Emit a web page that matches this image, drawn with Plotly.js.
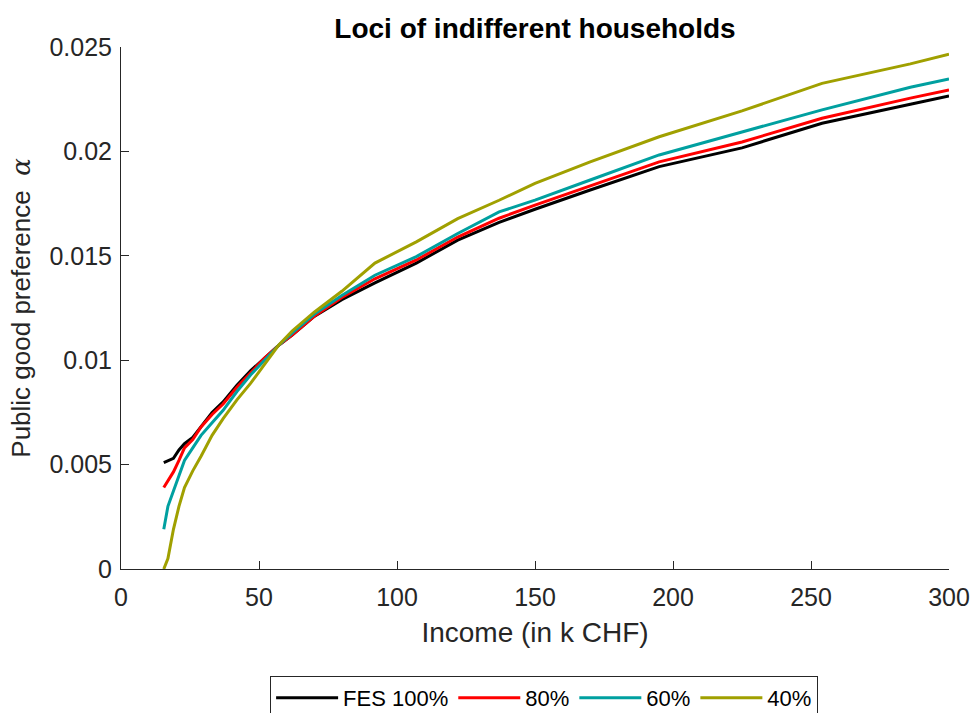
<!DOCTYPE html>
<html>
<head>
<meta charset="utf-8">
<script src="https://cdn.plot.ly/plotly-3.0.1.min.js"></script>
<style>
  html, body { margin: 0; padding: 0; background: #fff; }
  #chart { width: 974px; height: 713px; }
</style>
</head>
<body>
<div id="chart"></div>
<script>
// Income grid (k CHF)
const income = [15.5, 17, 19, 21, 23, 26, 29, 33, 37, 42, 47, 52, 57, 62, 70, 80, 92, 107, 122, 137, 150, 170, 195, 225, 254, 286, 300];

// Public good preference alpha for each scenario
const fes100 = [0.0051, 0.0052, 0.0053, 0.0057, 0.0060, 0.0063, 0.0068, 0.0075, 0.0080, 0.0088, 0.0095, 0.0101, 0.0107, 0.0112, 0.0121, 0.0129, 0.0137, 0.01465, 0.01575, 0.0166, 0.01723, 0.01815, 0.01927, 0.02017, 0.02135, 0.02226, 0.02266];
const fes80  = [0.0039, 0.0042, 0.00465, 0.0052, 0.0058, 0.0062, 0.0068, 0.0074, 0.0079, 0.0087, 0.0094, 0.0101, 0.0107, 0.0112, 0.0121, 0.0130, 0.0139, 0.0148, 0.0159, 0.0168, 0.01743, 0.01834, 0.0195, 0.02045, 0.02159, 0.02255, 0.02294];
const fes60  = [0.0019, 0.0030, 0.00374, 0.0045, 0.0052, 0.0058, 0.0064, 0.0070, 0.0076, 0.0085, 0.0093, 0.0100, 0.0107, 0.0113, 0.0122, 0.0131, 0.01407, 0.01496, 0.01607, 0.0171, 0.01767, 0.01863, 0.01983, 0.02093, 0.02199, 0.02307, 0.02347];
const fes40  = [0.0, 0.0005, 0.0019, 0.0030, 0.0039, 0.0047, 0.0054, 0.0064, 0.0072, 0.0081, 0.0089, 0.0098, 0.0107, 0.0114, 0.0123, 0.0133, 0.01465, 0.01567, 0.01678, 0.01766, 0.01847, 0.0195, 0.0207, 0.02194, 0.02326, 0.02419, 0.02465];

const seriesNames = ['FES 100%', '80%', '60%', '40%'];
const seriesColors = ['#000000', '#ff0000', '#00a0a0', '#a0a000'];

const xTickVals = [0, 50, 100, 150, 200, 250, 300];
const yTickVals = [0, 0.005, 0.01, 0.015, 0.02, 0.025];
const yTickText = ['0', '0.005', '0.01', '0.015', '0.02', '0.025'];

const seriesValues = [fes100, fes80, fes60, fes40];
const traces = seriesValues.map((vals, i) => ({
  x: income,
  y: vals,
  type: 'scatter',
  mode: 'lines',
  name: seriesNames[i],
  line: { color: seriesColors[i], width: 3 }
}));

const axisColor = '#262626';
const fontFamily = '"Liberation Sans", Arial, Helvetica, sans-serif';

const layout = {
  width: 974,
  height: 713,
  paper_bgcolor: '#ffffff',
  plot_bgcolor: '#ffffff',
  margin: { l: 121, r: 25, t: 47, b: 144, pad: 0 },
  font: { family: fontFamily, color: axisColor, size: 25 },
  title: {
    text: '<b>Loci of indifferent households</b>',
    font: { family: fontFamily, size: 28, color: '#000000' },
    x: 0.5, xref: 'paper', xanchor: 'center',
    y: 1, yref: 'paper', yanchor: 'bottom',
    pad: { b: 9 }
  },
  xaxis: {
    range: [0, 300],
    tickvals: xTickVals,
    ticks: 'inside',
    ticklen: 8,
    tickcolor: axisColor,
    tickfont: { size: 25, color: axisColor },
    ticklabelstandoff: 6,
    showline: true,
    linecolor: axisColor,
    linewidth: 1,
    showgrid: false,
    zeroline: false,
    automargin: false,
    title: { text: 'Income (in k CHF)', font: { size: 28, color: axisColor }, standoff: 12 }
  },
  yaxis: {
    range: [0, 0.025],
    tickvals: yTickVals,
    ticktext: yTickText,
    ticks: 'inside',
    ticklen: 8,
    tickcolor: axisColor,
    tickfont: { size: 25, color: axisColor },
    ticklabelstandoff: 3,
    showline: true,
    linecolor: axisColor,
    linewidth: 1,
    showgrid: false,
    zeroline: false,
    automargin: false,
    title: { text: 'Public good preference  <span style="font-family:\'DejaVu Serif\', serif"><i>α</i></span>', font: { size: 26, color: axisColor }, standoff: 11 }
  },
  showlegend: true,
  legend: {
    orientation: 'h',
    xref: 'paper', x: 0.511, xanchor: 'center',
    yref: 'container', y: 0.0519, yanchor: 'top',
    bordercolor: axisColor,
    borderwidth: 1,
    bgcolor: '#ffffff',
    font: { size: 22, color: '#000000' },
    itemwidth: 62
  }
};

Plotly.newPlot('chart', traces, layout, { displayModeBar: false, staticPlot: true });
</script>
</body>
</html>
